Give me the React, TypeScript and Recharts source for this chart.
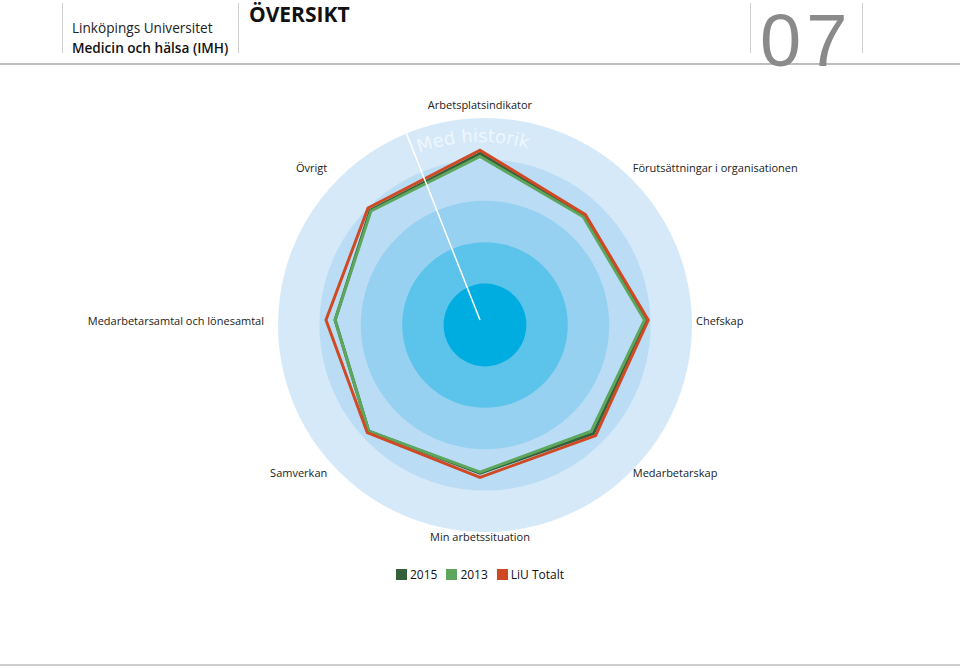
import React from "react";
import {
  RadarChart,
  Radar,
  PolarAngleAxis,
  PolarRadiusAxis,
  PieChart,
  Pie,
  Legend,
} from "recharts";

const axes = [
  "Arbetsplatsindikator",
  "Förutsättningar i organisationen",
  "Chefskap",
  "Medarbetarskap",
  "Min arbetssituation",
  "Samverkan",
  "Medarbetarsamtal och lönesamtal",
  "Övrigt",
];
const s2015 = [80.5, 71, 80, 77.5, 74, 76, 70, 75];
const s2013 = [79, 70.5, 79.5, 76, 73.5, 76, 70, 74.5];
const liuTotalt = [82, 72, 81.3, 79, 76, 77, 74.4, 76.5];

const seriesKeys = ["s2015", "s2013", "liu"];
const seriesNames = ["2015", "2013", "LiU Totalt"];
const seriesColors = ["#35613A", "#5DA65D", "#CF4A24"];

const bandLevels = [100, 80, 60, 40, 20];
const bandColors = ["#D5E9F8", "#BADDF5", "#97D1F1", "#5CC3EA", "#00ADE0"];

const data = axes.map((a, i) => ({
  axis: a,
  s2015: s2015[i],
  s2013: s2013[i],
  liu: liuTotalt[i],
}));

const W = 960;
const H = 668;
const CX = 480;
const CY = 320;
const R = 207;
const FONT = "'Open Sans', 'DejaVu Sans', sans-serif";

const AngleTick = (props: any) => {
  const { x, y, textAnchor, payload } = props;
  return (
    <text
      x={x}
      y={y}
      textAnchor={textAnchor}
      dominantBaseline="central"
      fontSize={11}
      fill="#222"
      fontFamily={FONT}
    >
      {payload.value}
    </text>
  );
};

const LegendContent = () => (
  <div
    style={{
      display: "flex",
      justifyContent: "center",
      alignItems: "center",
      fontFamily: FONT,
      fontSize: 12,
      color: "#111",
    }}
  >
    {seriesNames.map((n, i) => (
      <div
        key={n}
        style={{
          display: "flex",
          alignItems: "center",
          marginRight: i < seriesNames.length - 1 ? 9 : 0,
        }}
      >
        <span
          style={{
            display: "inline-block",
            width: 11,
            height: 11,
            background: seriesColors[i],
            marginRight: 3,
          }}
        />
        <span>{n}</span>
      </div>
    ))}
  </div>
);

function arcPath(r: number, a1: number, a2: number) {
  const rad = (d: number) => (d * Math.PI) / 180;
  const x1 = CX + r * Math.cos(rad(a1));
  const y1 = CY - r * Math.sin(rad(a1));
  const x2 = CX + r * Math.cos(rad(a2));
  const y2 = CY - r * Math.sin(rad(a2));
  return `M ${x1} ${y1} A ${r} ${r} 0 0 1 ${x2} ${y2}`;
}

export default function App() {
  return (
    <div
      style={{
        position: "absolute",
        left: 0,
        top: 0,
        width: W,
        height: H,
        background: "#fff",
        overflow: "hidden",
        fontFamily: FONT,
      }}
    >
      {/* header */}
      <div style={{ position: "absolute", left: 62, top: 3, width: 1, height: 50, background: "#cfcfcf" }} />
      <div style={{ position: "absolute", left: 238, top: 3, width: 1, height: 50, background: "#cfcfcf" }} />
      <div style={{ position: "absolute", left: 750, top: 3, width: 1, height: 50, background: "#cfcfcf" }} />
      <div style={{ position: "absolute", left: 862, top: 3, width: 1, height: 50, background: "#cfcfcf" }} />
      <div
        style={{
          position: "absolute",
          left: 72,
          top: 19,
          fontSize: 13.6,
          color: "#222",
          lineHeight: "18px",
          whiteSpace: "nowrap",
        }}
      >
        Linköpings Universitet
      </div>
      <div
        style={{
          position: "absolute",
          left: 72,
          top: 39,
          fontSize: 13.6,
          fontWeight: 600,
          color: "#111",
          lineHeight: "18px",
          whiteSpace: "nowrap",
        }}
      >
        Medicin och hälsa (IMH)
      </div>
      <div
        style={{
          position: "absolute",
          left: 249,
          top: 0,
          fontSize: 21,
          fontWeight: 700,
          color: "#111",
          lineHeight: "29px",
          whiteSpace: "nowrap",
        }}
      >
        ÖVERSIKT
      </div>
      <div style={{ position: "absolute", left: 0, top: 63, width: W, height: 2, background: "#bdbdbd" }} />
      <div
        style={{
          position: "absolute",
          left: 760,
          top: 0,
          fontSize: 74,
          fontWeight: 400,
          fontFamily: "'Liberation Sans', Arial, sans-serif",
          color: "#8a8a8a",
          lineHeight: "82px",
          whiteSpace: "nowrap",
          letterSpacing: 5,
        }}
      >
        07
      </div>
      <div style={{ position: "absolute", left: 0, top: 664, width: W, height: 2, background: "#cdcdcd" }} />

      {/* background bands */}
      <div style={{ position: "absolute", left: 0, top: 0 }}>
        <PieChart width={W} height={H}>
          {bandLevels.map((lv, i) => (
            <Pie
              key={i}
              data={[{ name: "band", value: 1 }]}
              dataKey="value"
              cx={CX}
              cy={CY}
              innerRadius={0}
              outerRadius={(R * lv) / 100}
              startAngle={90}
              endAngle={-270}
              fill={bandColors[i]}
              stroke="none"
              isAnimationActive={false}
            />
          ))}
        </PieChart>
      </div>

      {/* curved decoration text */}
      <svg
        width={W}
        height={H}
        style={{ position: "absolute", left: 0, top: 0, pointerEvents: "none" }}
      >
        <defs>
          <path id="histArc" d={arcPath(178, 110, 55)} />
        </defs>
        <text fontSize={18} fill="#ffffff" fillOpacity={0.65} fontFamily="'DejaVu Sans', sans-serif">
          <textPath href="#histArc">Med historik</textPath>
        </text>
      </svg>

      {/* radar */}
      <div style={{ position: "absolute", left: 0, top: 0 }}>
        <RadarChart
          width={W}
          height={H}
          data={data}
          cx={CX}
          cy={CY}
          outerRadius={R}
          startAngle={90}
          endAngle={-270}
          margin={{ top: 0, right: 0, bottom: 0, left: 0 }}
        >
          <PolarAngleAxis
            dataKey="axis"
            tick={<AngleTick />}
            tickLine={false}
            axisLine={false}
            tickSize={9}
          />
          <PolarRadiusAxis
            domain={[0, 100]}
            angle={111.5}
            tick={false}
            axisLine={{ stroke: "#ffffff", strokeWidth: 1.5 }}
          />
          {seriesKeys.map((k, i) => (
            <Radar
              key={k}
              name={seriesNames[i]}
              dataKey={k}
              stroke={seriesColors[i]}
              strokeWidth={3}
              fill="none"
              fillOpacity={0}
              isAnimationActive={false}
            />
          ))}
          <Legend
            content={<LegendContent />}
            wrapperStyle={{ top: 566, left: 0, width: W }}
          />
        </RadarChart>
      </div>
    </div>
  );
}
